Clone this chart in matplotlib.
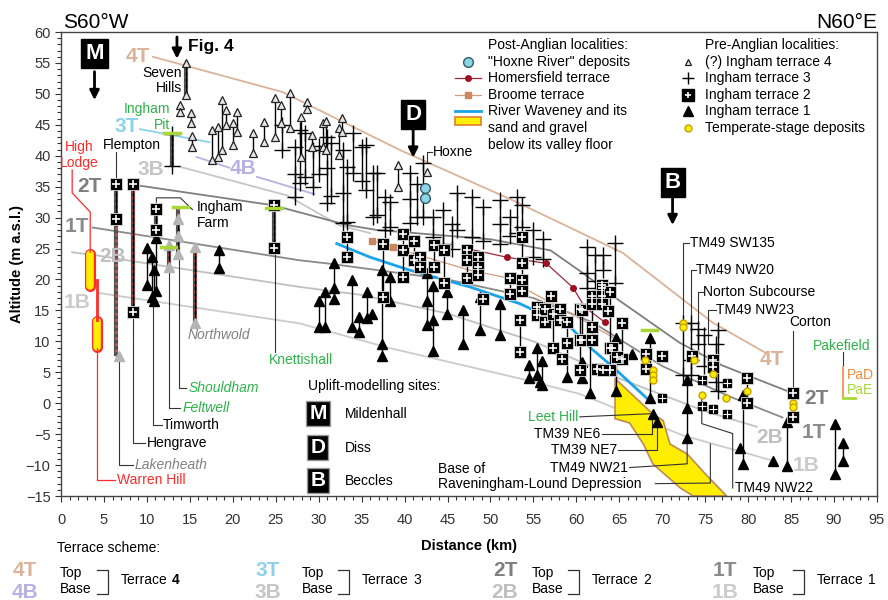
import numpy as np
import matplotlib.pyplot as plt
from matplotlib.patches import Polygon
from matplotlib.ticker import MultipleLocator

plt.rcParams['font.family'] = ['Liberation Sans', 'DejaVu Sans']

# ---- terrace surfaces (distance km, altitude m) ----
t4_top_x = [10.7, 25.8, 39.5, 52.6, 65.4, 75.9, 82.2]
t4_top_y = [56.0, 50.3, 40.9, 32.8, 24.3, 13.0, 8.0]
t4_base_x = [15.8, 22.8, 29.5]
t4_base_y = [39.8, 36.6, 33.8]
t3_top_x = [9.2, 17.3]
t3_top_y = [44.3, 42.2]
t3_base_x = [13.9, 26.3, 32.5, 36.0]
t3_base_y = [38.2, 33.6, 28.7, 27.5]
t2_top_x = [8.5, 24.7, 33.3, 36.8, 50.0, 57.0, 60.8, 65.0, 72.0, 77.0, 84.5]
t2_top_y = [35.3, 32.0, 28.8, 28.0, 26.5, 24.7, 21.0, 16.6, 9.8, 6.1, 2.0]
t1_top_x = [3.7, 27.8, 31.0, 45.0, 55.0, 62.0, 70.0, 78.0, 84.0]
t1_top_y = [28.4, 23.1, 22.6, 20.0, 17.0, 13.0, 6.0, 1.0, -2.3]
t2_base_x = [1.3, 4.2, 7.7, 27.8, 35.0, 45.0, 55.0, 65.0, 75.0, 81.0]
t2_base_y = [24.4, 23.9, 23.1, 18.8, 17.5, 14.5, 10.0, 4.0, -1.3, -3.8]
t1_base_x = [4.5, 27.8, 38.3, 53.4, 60.4, 72.4, 82.9]
t1_base_y = [17.8, 12.9, 8.9, 4.0, 1.5, -5.2, -9.3]

# ---- post-Anglian ----
homersfield_x = [47.6, 51.9, 56.5, 59.6, 61.0, 63.3]
homersfield_y = [24.9, 23.6, 22.6, 18.7, 15.5, 13.1]
broome_x = [36.2, 38.6, 39.8, 47.6, 51.5, 60.8, 64.3]
broome_y = [26.3, 25.2, 24.7, 21.5, 20.4, 13.4, 10.6]
waveney_x = [32.1, 36.0, 40.6, 47.6, 53.4, 59.3, 61.6, 64.3, 68.2]
waveney_y = [25.8, 23.6, 21.5, 18.8, 16.1, 12.3, 9.0, 5.8, 0.8]
gravel_x = [64.5, 68.8, 70.1, 70.9, 72.9, 75.2, 77.5, 73.6, 72.1, 68.9, 67.8, 66.2, 64.5]
gravel_y = [4.0, -1.6, -2.8, -6.6, -8.2, -11.7, -15.0, -15.0, -13.7, -9.8, -6.6, -3.2, -2.5]
hoxne_x = [42.4, 42.4]
hoxne_y = [34.8, 33.2]

# ---- pre-Anglian localities: (distance, altitudes...) ----
terrace4 = [
    (14.6, 55.0, 49.8), (13.9, 48.2, 47.0), (15.1, 46.9, 45.3), (15.3, 43.2, 41.4),
    (17.6, 44.2, 39.3), (18.3, 44.7, 39.8), (18.7, 49.0, 40.9), (19.2, 47.4, 45.0),
    (20.0, 45.3, 41.8), (20.5, 47.1, 43.8), (22.3, 43.7, 40.4), (23.6, 45.5, 42.2),
    (24.9, 49.4, 43.1), (25.6, 48.2, 45.3), (26.7, 50.2, 44.5), (27.9, 46.3, 39.8),
    (28.6, 48.7, 47.6), (29.2, 43.4, 41.4), (30.5, 45.3, 41.4), (30.9, 45.6, 40.9),
    (32.4, 44.5, 40.1), (32.7, 46.1, 43.8), (39.2, 38.5, 34.9), (42.6, 37.4),
]
terrace3 = [
    (12.9, 43.5, 38.3), (25.7, 44.9, 40.9), (27.2, 41.4, 37.0, 33.3), (27.8, 44.2, 35.6),
    (28.4, 43.7, 36.6), (29.3, 40.9, 35.0), (30.0, 41.5, 37.0), (31.0, 43.0, 38.0, 32.3),
    (31.4, 42.0, 33.5), (32.8, 40.9, 34.0, 29.1), (33.3, 38.2, 29.3), (34.0, 43.7, 37.2),
    (35.0, 41.4, 36.0), (35.5, 41.8, 34.5), (36.3, 37.2, 30.1), (36.8, 37.2, 30.5),
    (37.7, 33.3, 28.0), (38.3, 32.5, 28.5), (40.6, 37.2, 33.0, 29.1), (41.4, 35.5, 30.1),
    (42.1, 38.8, 30.1), (43.3, 30.1, 26.9), (44.5, 31.2, 25.8), (45.5, 29.0, 25.0),
    (46.1, 34.0, 28.0), (47.8, 33.3, 26.9), (49.1, 31.7, 26.3), (51.1, 32.8, 29.0, 25.8),
    (52.3, 30.1, 27.0), (53.1, 33.3, 27.5), (53.7, 32.0, 28.5), (55.0, 28.0, 23.6),
    (56.1, 26.5, 23.3), (61.2, 25.3, 21.0, 18.7), (62.2, 24.0, 19.8), (63.1, 24.0, 21.5),
    (64.5, 25.9, 19.4), (72.4, 12.9, 4.5), (73.3, 12.9, 7.0, 4.5), (74.2, 12.0, 9.5),
    (74.9, 11.0, 6.0), (76.2, 9.5, 3.5), (76.5, 11.8, 2.0),
]
terrace2 = [
    (6.4, 35.5, 29.7), (8.4, 35.4, 14.7), (11.1, 31.4, 28.0), (24.8, 32.1, 25.1),
    (33.3, 26.8, 23.7), (37.5, 25.8, 17.1), (39.8, 27.3, 24.7, 20.4), (41.1, 26.3, 23.1),
    (41.8, 23.6, 22.0), (43.4, 25.5, 22.1), (44.6, 24.7, 19.5), (47.3, 24.7, 23.1, 20.2),
    (48.5, 23.6, 22.0, 20.7), (49.1, 16.9), (52.3, 20.2, 17.7),
    (53.7, 26.9, 22.6, 19.9, 18.2), (53.4, 13.4, 8.3), (55.4, 15.5, 14.2), (56.3, 15.3, 13.1),
    (57.0, 17.4), (57.3, 14.5, 9.0), (58.1, 15.3, 13.4), (58.9, 13.1, 9.7), (58.3, 7.2),
    (60.4, 15.3, 10.2, 5.3), (60.7, 15.0, 10.2), (61.8, 17.4, 16.1, 12.3, 10.2), (62.4, 5.6),
    (63.0, 19.1, 18.7, 17.4, 16.1), (63.7, 14.9), (63.9, 18.0, 9.0, 5.3), (63.1, 5.4),
    (64.1, 9.0), (65.3, 12.9, 7.2), (64.7, 7.4), (68.1, 8.0, 5.6), (70.0, 7.7),
    (73.5, 7.6), (75.9, 7.0, 5.8), (79.9, 4.0, 0.0), (85.2, 1.6, -2.3),
]
terrace2_small_x = [70.0, 74.6, 74.6, 75.9, 77.5, 77.5]
terrace2_small_y = [0.9, 3.7, -0.4, -0.9, 3.2, -1.7]
terrace1 = [
    (10.0, 25.1, 19.1), (10.6, 23.6, 17.1), (11.1, 26.7, 18.2), (10.8, 21.5, 16.5),
    (18.4, 24.7, 21.9), (30.0, 16.6, 12.3), (30.7, 17.9, 12.3), (31.8, 22.6, 18.7, 16.9),
    (33.9, 19.9, 12.3), (34.7, 13.9, 11.5), (35.6, 17.9, 13.7), (36.2, 14.5),
    (37.4, 21.5, 9.6, 7.7), (38.3, 20.4, 16.6), (42.6, 21.1, 16.6, 12.6),
    (43.3, 19.0, 13.4, 8.5), (44.9, 17.9, 14.5), (46.8, 15.0, 9.6), (48.8, 17.1, 11.8),
    (51.1, 16.1, 11.1), (54.5, 6.1, 4.0), (55.4, 9.0, 4.5), (56.0, 6.9, 2.9), (55.8, 3.4),
    (58.9, 9.9, 4.2), (60.7, 6.6, 4.0), (61.6, 10.2, 1.6), (64.6, 10.6, 2.0), (66.5, 8.0),
    (68.6, 10.5, 0.8), (68.9, -1.7), (69.4, -3.1), (72.9, 3.7, -0.7, -5.6), (79.0, -7.2),
    (79.4, 1.3, -9.8), (82.9, -9.3), (84.5, -3.1, -10.1), (90.1, -3.3, -11.4),
    (91.0, -6.5, -9.3),
]
# terrace 1 sites shown in grey (Northwold, Lakenheath, Ingham Farm, Feltwell)
terrace1_grey = [(12.6, 25.5, 22.1), (13.6, 29.7, 27.0, 24.2), (15.6, 25.3, 12.9), (6.7, 7.6)]
temperate_x = [68.0, 68.9, 68.9, 68.9, 72.4, 72.4, 73.7, 74.6, 75.9, 77.4, 79.9, 85.2, 85.2]
temperate_y = [7.0, 5.3, 4.5, 3.7, 12.9, 12.3, 7.0, 1.4, 4.8, 0.8, 2.0, 0.1, -0.6]
green_bar_x = [12.9, 12.5, 13.9, 24.8, 68.5]
green_bar_y = [43.7, 25.3, 31.7, 31.6, 11.8]
# sections drawn with hatched logs
hatched = [(6.4, 35.5, 7.6), (8.4, 35.4, 14.7), (12.9, 43.5, 38.3), (14.6, 55.0, 49.8),
           (24.8, 32.1, 25.1), (15.6, 25.3, 12.9), (13.6, 31.7, 24.2), (12.6, 25.3, 22.1),
           (11.1, 31.4, 28.0)]

LEAD = '#333333'
C4T, C4B, C3T, C3B = '#dbb29a', '#b8b2e4', '#8dd2ea', '#c6c6c6'
C2T, C2B, C1T, C1B = '#7e7e7e', '#c0c0c0', '#8a8a8a', '#cbcbcb'

fig = plt.figure(figsize=(8.88, 6.0), dpi=100)
ax = fig.add_axes([0.0687, 0.1733, 0.9189, 0.7733])
ax.set_xlim(0, 95)
ax.set_ylim(-15, 60)

# terrace surfaces
ax.plot(t4_top_x, t4_top_y, color=C4T, lw=1.3, zorder=1)
ax.plot(t4_base_x, t4_base_y, color=C4B, lw=1.3, zorder=1)
ax.plot(t3_top_x, t3_top_y, color=C3T, lw=1.3, zorder=1)
ax.plot(t3_base_x, t3_base_y, color=C3B, lw=1.3, zorder=1)
ax.plot(t2_top_x, t2_top_y, color=C2T, lw=1.3, zorder=1)
ax.plot(t2_base_x, t2_base_y, color=C2B, lw=1.3, zorder=1)
ax.plot(t1_top_x, t1_top_y, color=C1T, lw=1.3, zorder=1)
ax.plot(t1_base_x, t1_base_y, color=C1B, lw=1.3, zorder=1)

# buried valley fill and modern river
ax.add_patch(Polygon(np.column_stack([gravel_x, gravel_y]), closed=True, fc='#ffee00',
                     ec='#c0885a', lw=1.2, zorder=2))
ax.plot(waveney_x, waveney_y, color='#1aa3ea', lw=2, zorder=3)
ax.plot(broome_x, broome_y, color='#d69b78', lw=0.9, zorder=3)
ax.plot(broome_x[:2], broome_y[:2], 's', color='#c7875f', ms=5, zorder=6)
ax.plot(homersfield_x, homersfield_y, color='#9c2a3a', lw=0.9, zorder=3)
ax.plot([homersfield_x[i] for i in (1, 2, 3, 5)], [homersfield_y[i] for i in (1, 2, 3, 5)],
        'o', color='#9c1020', ms=4, zorder=6)

# hatched logs
for x, y0, y1 in hatched:
    ax.plot([x, x], [y0, y1], color='#505050', lw=3, zorder=3, solid_capstyle='butt')
    ax.plot([x, x], [y0, y1], color='#d05050', lw=2, ls=(0, (1, 1.2)), zorder=3)


def sites(data, zorder=4):
    for s in data:
        ys = s[1:]
        if len(ys) > 1:
            ax.plot([s[0], s[0]], [min(ys), max(ys)], color='black', lw=1, zorder=zorder)


def site_points(data):
    xs = [s[0] for s in data for _ in s[1:]]
    ys = [y for s in data for y in s[1:]]
    return xs, ys


sites(terrace4)
sites(terrace3)
sites(terrace2)
sites(terrace1)
sites(terrace1_grey)

x3, y3 = site_points(terrace3)
ax.plot(x3, y3, '+', color='black', ms=11, mew=1, zorder=5)
x4, y4 = site_points(terrace4)
ax.plot(x4, y4, '^', mfc='#e6e6e6', mec='#222222', ms=5.5, mew=0.9, zorder=6)
x1, y1 = site_points(terrace1)
ax.plot(x1, y1, '^', color='black', ms=7, zorder=6)
xg, yg = site_points(terrace1_grey)
ax.plot(xg, yg, '^', color='#b5b5b5', ms=7, zorder=6)
x2, y2 = site_points(terrace2)
ax.plot(x2, y2, 's', mfc='black', mec='#dddddd', mew=0.6, ms=9, zorder=7)
ax.plot(x2, y2, '+', color='white', ms=6, mew=1.2, zorder=8)
ax.plot(terrace2_small_x, terrace2_small_y, 's', mfc='black', mec='black', ms=5.5, zorder=7)
ax.plot(terrace2_small_x, terrace2_small_y, '+', color='white', ms=5.5, mew=0.8, zorder=8)
ax.plot(temperate_x, temperate_y, 'o', mfc='#ffee00', mec='#c8a000', ms=5, zorder=9)
ax.plot(hoxne_x, hoxne_y, 'o', mfc='#8fd3e6', mec='#2a5d6a', ms=7, zorder=9)
for gx, gy in zip(green_bar_x, green_bar_y):
    ax.plot([gx - 0.9, gx + 0.9], [gy, gy], color='#a8d836', lw=2.5, zorder=9)

# High Lodge and Warren Hill (red)
RED = '#ff2a2a'
ax.plot([3.4, 3.4], [18.9, 24.2], color=RED, lw=8, solid_capstyle='round', zorder=4)
ax.plot([3.4, 3.4], [18.9, 24.2], color='#ffee00', lw=5.5, solid_capstyle='round', zorder=4)
ax.plot([4.2, 4.2], [9.1, 13.3], color=RED, lw=8, solid_capstyle='round', zorder=4)
ax.plot([4.2, 4.2], [9.1, 13.3], color='#ffee00', lw=5.5, solid_capstyle='round', zorder=4)
ax.plot([4.2, 4.2], [19.9, 13.5], color=RED, lw=2, zorder=4)
ax.plot([1.3, 1.3, 3.4, 3.4], [37.7, 34.0, 30.9, 24.4], color=RED, lw=0.9, zorder=4)
ax.plot([4.2, 4.2, 6.3], [8.9, -12.4, -12.4], color=RED, lw=0.9, zorder=4)
ax.text(2.1, 41.4, 'High', color=RED, fontsize=10, ha='center', va='center')
ax.text(2.1, 38.8, 'Lodge', color=RED, fontsize=10, ha='center', va='center')
ax.text(6.5, -12.4, 'Warren Hill', color=RED, fontsize=10, va='center')

# locality labels with leader lines
leaders = [
    ([6.4, 6.4], [40.6, 36.0]),
    ([6.7, 6.7, 8.4], [7.6, -10.0, -10.0]),
    ([8.4, 8.4, 9.8], [14.7, -6.4, -6.4]),
    ([10.7, 10.7, 11.7], [16.5, -3.5, -3.5]),
    ([12.6, 12.6, 13.9], [22.1, -0.7, -0.7]),
    ([13.7, 13.7, 14.6], [24.2, 2.5, 2.5]),
    ([24.9, 24.9], [25.1, 8.2]),
    ([11.1, 11.1, 13.9, 15.3], [32.5, 33.2, 33.2, 31.3]),
    ([42.6, 42.6, 43.2], [38.8, 40.6, 40.6]),
    ([60.4, 68.6], [-2.2, -1.7]),
    ([63.0, 68.8, 68.8], [-5.0, -5.0, -2.3]),
    ([64.9, 69.4, 69.4], [-7.5, -7.5, -2.8]),
    ([66.2, 72.9, 72.9], [-10.4, -9.8, -5.6]),
    ([69.2, 75.6, 75.6], [-13.0, -12.9, -6.6]),
    ([74.6, 74.6, 78.2, 78.2], [0.9, -3.3, -4.9, -13.7]),
    ([85.2, 85.2], [11.7, 2.5]),
    ([72.4, 72.4, 73.1], [12.9, 25.9, 25.9]),
    ([73.3, 73.3, 73.9], [12.9, 21.5, 21.5]),
    ([74.2, 74.2, 74.7], [12.0, 17.9, 17.9]),
    ([75.3, 75.3, 76.2], [9.5, 15.0, 15.0]),
    ([91.0, 91.0], [8.2, 6.1]),
]
for lx, ly in leaders:
    ax.plot(lx, ly, color=LEAD, lw=0.8, zorder=3)
ax.plot([91.0, 91.0], [5.8, 0.9], color='#f08a3c', lw=1.2, zorder=3)
ax.plot([91.0, 92.4], [0.9, 0.9], color='#a8d836', lw=2, zorder=3)

GREEN = '#2db34a'
GREY = '#808080'
labels = [
    ('Flempton', 8.3, 41.7, 'black', 'normal', 'center'),
    ('Seven', 14.1, 53.4, 'black', 'normal', 'right'),
    ('Hills', 14.1, 51.0, 'black', 'normal', 'right'),
    ('Ingham', 12.7, 47.6, GREEN, 'normal', 'right'),
    ('Pit', 12.7, 45.0, GREEN, 'normal', 'right'),
    ('Ingham', 15.8, 31.7, 'black', 'normal', 'left'),
    ('Farm', 15.8, 29.2, 'black', 'normal', 'left'),
    ('Northwold', 14.7, 11.0, GREY, 'italic', 'left'),
    ('Knettishall', 24.2, 7.0, GREEN, 'normal', 'left'),
    ('Shouldham', 14.8, 2.5, GREEN, 'italic', 'left'),
    ('Feltwell', 14.1, -0.7, GREEN, 'italic', 'left'),
    ('Timworth', 11.9, -3.5, 'black', 'normal', 'left'),
    ('Hengrave', 10.0, -6.4, 'black', 'normal', 'left'),
    ('Lakenheath', 8.6, -10.0, GREY, 'italic', 'left'),
    ('Hoxne', 43.3, 40.6, 'black', 'normal', 'left'),
    ('Leet Hill', 60.2, -2.2, GREEN, 'normal', 'right'),
    ('TM39 NE6', 62.8, -5.0, 'black', 'normal', 'right'),
    ('TM39 NE7', 64.8, -7.6, 'black', 'normal', 'right'),
    ('TM49 NW21', 66.0, -10.5, 'black', 'normal', 'right'),
    ('Base of', 43.9, -10.6, 'black', 'normal', 'left'),
    ('Raveningham-Lound Depression', 43.9, -13.0, 'black', 'normal', 'left'),
    ('TM49 NW22', 78.5, -13.7, 'black', 'normal', 'left'),
    ('Corton', 87.2, 13.2, 'black', 'normal', 'center'),
    ('Pakefield', 87.5, 9.3, GREEN, 'normal', 'left'),
    ('PaD', 91.5, 4.6, '#f08a3c', 'normal', 'left'),
    ('PaE', 91.5, 2.2, '#a8d836', 'normal', 'left'),
    ('TM49 SW135', 73.2, 25.9, 'black', 'normal', 'left'),
    ('TM49 NW20', 73.9, 21.5, 'black', 'normal', 'left'),
    ('Norton Subcourse', 74.7, 17.9, 'black', 'normal', 'left'),
    ('TM49 NW23', 76.2, 15.0, 'black', 'normal', 'left'),
]
for s, x, y, c, st, ha in labels:
    ax.text(x, y, s, color=c, style=st, ha=ha, va='center', fontsize=10, zorder=10)

# terrace surface labels
tl = dict(fontsize=15, fontweight='bold', ha='center', va='center', zorder=10)
ax.text(9.0, 56.0, '4T', color=C4T, **tl)
ax.text(7.6, 44.7, '3T', color=C3T, **tl)
ax.text(10.5, 37.7, '3B', color=C3B, **tl)
ax.text(21.2, 38.0, '4B', color=C4B, bbox=dict(fc='white', ec='none', pad=0), **tl)
ax.text(3.3, 35.0, '2T', color=C2T, **tl)
ax.text(1.8, 28.5, '1T', color=C1T, **tl)
ax.text(6.0, 23.7, '2B', color=C2B, **tl)
ax.text(1.9, 16.3, '1B', color=C1B, **tl)
ax.text(82.8, 7.0, '4T', color=C4T, **tl)
ax.text(87.9, 0.8, '2T', color=C2T, **tl)
ax.text(82.5, -5.5, '2B', color=C2B, **tl)
ax.text(87.6, -4.7, '1T', color=C1T, **tl)
ax.text(86.8, -10.1, '1B', color=C1B, **tl)

# uplift-modelling site markers
box = dict(boxstyle='square,pad=0.18', fc='black', ec='black')
arrow = dict(arrowstyle='-|>', color='black', lw=2, mutation_scale=14, shrinkA=0, shrinkB=0)
for letter, x, ybox, y0, y1 in [('M', 3.9, 56.6, 53.6, 49.0), ('D', 41.0, 46.6, 44.2, 39.7),
                                 ('B', 71.2, 35.6, 33.3, 28.8)]:
    ax.text(x, ybox, letter, color='white', fontsize=16, fontweight='bold', ha='center',
            va='center', bbox=box, zorder=10)
    ax.annotate('', xy=(x, y1), xytext=(x, y0), arrowprops=arrow, zorder=10)
ax.annotate('', xy=(13.5, 55.7), xytext=(13.5, 59.2), arrowprops=arrow, zorder=10)
ax.text(14.8, 57.6, 'Fig. 4', fontsize=12.5, fontweight='bold', va='center')

ax.text(28.8, 2.8, 'Uplift-modelling sites:', fontsize=10, va='center')
for letter, y, name in [('M', -1.7, 'Mildenhall'), ('D', -7.2, 'Diss'), ('B', -12.5, 'Beccles')]:
    ax.text(29.9, y, letter, color='white', fontsize=15, fontweight='bold', ha='center',
            va='center', bbox=dict(boxstyle='square,pad=0.15', fc='black', ec='#999999'))
    ax.text(33.0, y, name, fontsize=10, va='center')

# legend: post-Anglian
lg = dict(fontsize=10, va='center')
ax.text(49.7, 57.9, 'Post-Anglian localities:', **lg)
ax.plot(47.4, 55.2, 'o', mfc='#8fd3e6', mec='#2a5d6a', ms=7)
ax.text(49.7, 55.2, '"Hoxne River" deposits', **lg)
ax.plot([45.9, 48.9], [52.6, 52.6], color='#9c2a3a', lw=0.9)
ax.plot(47.4, 52.6, 'o', color='#9c1020', ms=4)
ax.text(49.7, 52.6, 'Homersfield terrace', **lg)
ax.plot([45.9, 48.9], [49.8, 49.8], color='#d69b78', lw=0.9)
ax.plot(47.4, 49.8, 's', color='#c7875f', ms=5)
ax.text(49.7, 49.8, 'Broome terrace', **lg)
ax.plot([45.9, 48.9], [47.2, 47.2], color='#1aa3ea', lw=2)
ax.add_patch(Polygon([[45.9, 46.3], [48.9, 46.3], [48.9, 44.9], [45.9, 44.9]], fc='#ffee00',
                     ec='#e0802a', lw=1.2))
ax.text(49.7, 47.2, 'River Waveney and its', **lg)
ax.text(49.7, 44.5, 'sand and gravel', **lg)
ax.text(49.7, 41.7, 'below its valley floor', **lg)

# legend: pre-Anglian
ax.text(75.0, 57.9, 'Pre-Anglian localities:', **lg)
ax.plot(73.0, 55.2, '^', mfc='#e6e6e6', mec='#222222', ms=5, mew=0.9)
ax.text(75.0, 55.2, '(?) Ingham terrace 4', **lg)
ax.plot(73.0, 52.6, '+', color='black', ms=8, mew=1)
ax.text(75.0, 52.6, 'Ingham terrace 3', **lg)
ax.plot(73.0, 49.8, 's', color='black', ms=8)
ax.plot(73.0, 49.8, '+', color='white', ms=5, mew=1.2)
ax.text(75.0, 49.8, 'Ingham terrace 2', **lg)
ax.plot(73.0, 47.2, '^', color='black', ms=7)
ax.text(75.0, 47.2, 'Ingham terrace 1', **lg)
ax.plot(73.0, 44.5, 'o', mfc='#ffee00', mec='#c8a000', ms=5)
ax.text(75.0, 44.5, 'Temperate-stage deposits', **lg)

# axes styling
ax.xaxis.set_major_locator(MultipleLocator(5))
ax.xaxis.set_minor_locator(MultipleLocator(1))
ax.yaxis.set_major_locator(MultipleLocator(5))
ax.yaxis.set_minor_locator(MultipleLocator(1))
ax.tick_params(which='both', direction='out', colors='#333333', labelsize=10.5, width=0.8)
ax.tick_params(which='major', length=4)
ax.tick_params(which='minor', length=3)
ax.tick_params(axis='x', pad=8)
for sp in ax.spines.values():
    sp.set_color('#444444')
    sp.set_linewidth(1)
ax.set_xlabel('Distance (km)', fontsize=10.5, fontweight='bold', labelpad=9)
ax.set_ylabel('Altitude (m a.s.l.)', fontsize=10.5, fontweight='bold', labelpad=1)

fig.text(63 / 888, 1 - 28 / 600, 'S60°W', fontsize=15, va='baseline')
fig.text(877 / 888, 1 - 28 / 600, 'N60°E', fontsize=15, va='baseline', ha='right')

# terrace scheme key
fig.text(57 / 888, 1 - 548 / 600, 'Terrace scheme:', fontsize=10, va='center')
scheme = [(25, '4T', '4B', C4T, C4B, 60, 97, '4'), (268, '3T', '3B', C3T, C3B, 302, 338, '3'),
          (505, '2T', '2B', C2T, C2B, 532, 568, '2'), (725, '1T', '1B', C1T, C1B, 753, 793, '1')]
for cx, t, b, ct, cb, tx, bx, n in scheme:
    fig.text(cx / 888, 1 - 571 / 600, t, color=ct, fontsize=15, fontweight='bold',
             ha='center', va='center')
    fig.text(cx / 888, 1 - 592 / 600, b, color=cb, fontsize=15, fontweight='bold',
             ha='center', va='center')
    fig.text(tx / 888, 1 - 573 / 600, 'Top', fontsize=10, va='center')
    fig.text(tx / 888, 1 - 589 / 600, 'Base', fontsize=10, va='center')
    fig.add_artist(plt.Line2D([bx / 888, (bx + 11) / 888, (bx + 11) / 888, bx / 888],
                              [1 - 570 / 600, 1 - 570 / 600, 1 - 594 / 600, 1 - 594 / 600],
                              color=LEAD, lw=0.9))
    word = fig.text((bx + 24) / 888, 1 - 580 / 600, 'Terrace', fontsize=10, va='center')
    fig.add_artist(plt.Annotation(n, xy=(1, 0.5), xycoords=word, xytext=(3, 0),
                                  textcoords='offset points', va='center', fontsize=10,
                                  fontweight='bold' if n == '4' else 'normal'))

fig.savefig('out.png', dpi=100)
